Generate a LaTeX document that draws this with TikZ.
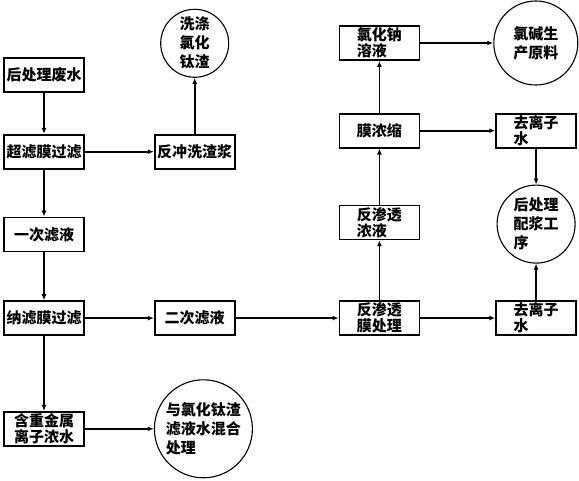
\documentclass[tikz,border=0pt]{standalone}
\usepackage{fontspec}
\setmainfont{Noto Sans CJK SC}
\usepackage{tikz}
\usetikzlibrary{positioning, arrows.meta}

\begin{document}
\begin{tikzpicture}[
    box/.style={
        rectangle,
        draw,
        line width=1.7pt,
        align=left,
        inner sep=1pt,
        font=\bfseries\fontsize{15}{16}\selectfont,
        minimum width=80pt,
        minimum height=34pt
    },
    circ/.style={
        circle,
        draw,
        line width=1.1pt,
        align=left,
        inner sep=0pt,
        font=\bfseries\fontsize{15}{19}\selectfont
    },
    arrow/.style={
        -{Latex[length=6pt,width=5pt]},
        line width=1.8pt
    }
]
\useasboundingbox (0,0) rectangle (579pt,-481pt);

% ------------------------------------------------------------------
% LEFT COLUMN
% ------------------------------------------------------------------

\node[box] (feishui) at (44pt,-75pt) {后处理废水};

\node[box, below=41pt of feishui] (chaolv) {超滤膜过滤};

\node[box, below=47pt of chaolv] (yici) {一次滤液};

\node[box, below=48pt of yici] (nalv) {纳滤膜过滤};

\node[box, below=75pt of nalv] (nongshui) {含重金属\\离子浓水};

% ------------------------------------------------------------------
% MIDDLE COLUMN
% ------------------------------------------------------------------

\node[box, right=69pt of chaolv] (fanchong) {反冲洗渣浆};

\node[circ, minimum size=68pt, above=56pt of fanchong] (xidi)
{洗涤\\氯化\\钛渣};

\node[box, right=69pt of nalv] (erci) {二次滤液};

\node[circ, minimum size=98pt, right=69pt of nongshui] (hunhe)
{与氯化钛渣\\滤液水混合\\处理};

% ------------------------------------------------------------------
% RIGHT COLUMNS
% ------------------------------------------------------------------

\node[box, right=103pt of erci] (fanshentou) {反渗透\\膜处理};

\node[box, above=60pt of fanshentou] (nongye) {反渗透\\浓液};

\node[box, above=56pt of nongye] (monong) {膜浓缩};

\node[box, above=52pt of monong] (lvhuana) {氯化钠\\溶液};

\node[circ, minimum size=84pt, right=73pt of lvhuana] (lujian)
{氯碱生\\产原料};

\node[box, right=75pt of monong] (quzi1) {去离子\\水};

\node[box, right=75pt of fanshentou] (quzi2) {去离子\\水};

\node[circ, minimum size=78pt, below=36pt of quzi1] (peijiang)
{后处理\\配浆工\\序};

% ------------------------------------------------------------------
% CONNECTIONS
% ------------------------------------------------------------------

\draw[arrow] (feishui) -- (chaolv);
\draw[arrow] (chaolv) -- (fanchong);
\draw[arrow] (fanchong) -- (xidi);
\draw[arrow] (chaolv) -- (yici);
\draw[arrow] (yici) -- (nalv);
\draw[arrow] (nalv) -- (erci);
\draw[arrow] (nalv) -- (nongshui);
\draw[arrow] (nongshui) -- (hunhe);

\draw[arrow] (erci) -- (fanshentou);
\draw[arrow] (fanshentou) -- (nongye);
\draw[arrow] (nongye) -- (monong);
\draw[arrow] (monong) -- (lvhuana);
\draw[arrow] (lvhuana) -- (lujian);
\draw[arrow] (monong) -- (quzi1);
\draw[arrow] (quzi1) -- (peijiang);
\draw[arrow] (fanshentou) -- (quzi2);
\draw[arrow] (quzi2) -- (peijiang);

\end{tikzpicture}
\end{document}
